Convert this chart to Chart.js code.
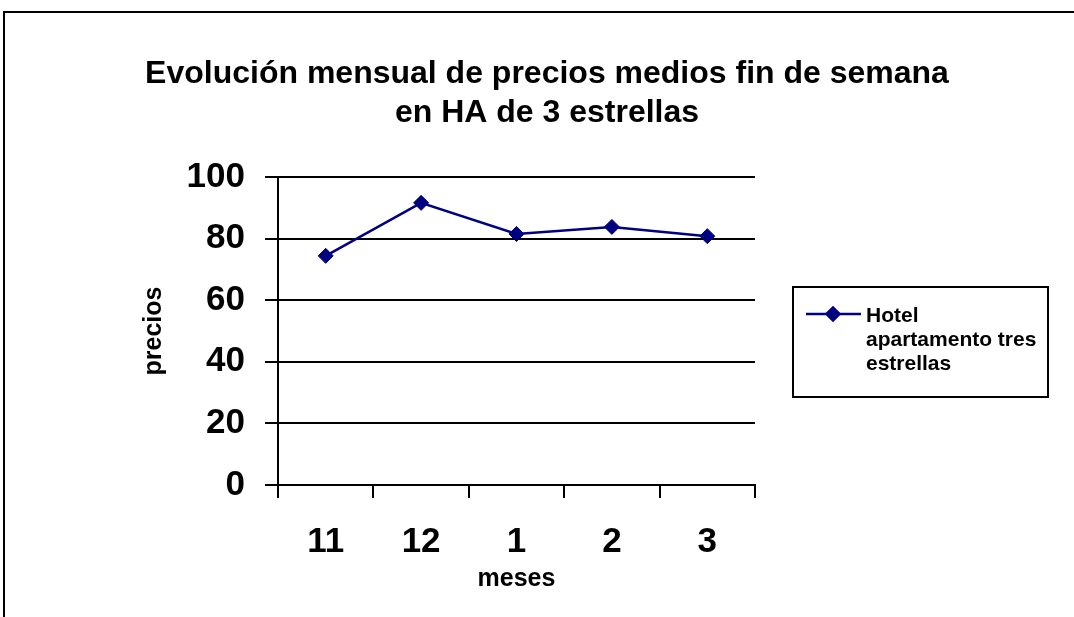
<!DOCTYPE html>
<html>
<head>
<meta charset="utf-8">
<script src="https://cdn.jsdelivr.net/npm/chart.js@4/dist/chart.umd.min.js"></script>
<style>
  html, body { margin: 0; padding: 0; background: #ffffff; }
  #wrap { width: 1074px; height: 617px; position: relative; }
  canvas { display: block; }
</style>
</head>
<body>
<div id="wrap"><canvas id="grafico" width="1074" height="617"></canvas></div>
<script>
// Meses (noviembre a marzo) y precio medio de fin de semana
const meses = ['11', '12', '1', '2', '3'];
const precios = [74.4, 91.6, 81.5, 83.8, 80.8];
const nombreSerie = 'Hotel apartamento tres estrellas';
const titulo = ['Evolución mensual de precios medios fin de semana', 'en HA de 3 estrellas'];
const tituloX = 'meses';
const tituloY = 'precios';
const yMin = 0, yMax = 100, yPaso = 20;

const FAMILIA = '"Liberation Sans", Arial, Helvetica, sans-serif';
const AZUL = '#000080';

// Reparte las palabras en líneas que no superen el ancho dado
function repartir(ctx, palabras, ancho) {
  const out = [];
  let actual = '';
  palabras.forEach(p => {
    const prueba = actual ? actual + ' ' + p : p;
    if (ctx.measureText(prueba).width > ancho && actual) { out.push(actual); actual = p; }
    else actual = prueba;
  });
  if (actual) out.push(actual);
  return out;
}

// Marco exterior, título y leyenda
const decoracion = {
  id: 'decoracion',
  beforeDraw(chart) {
    const ctx = chart.ctx;
    ctx.save();
    ctx.fillStyle = '#ffffff';
    ctx.fillRect(0, 0, chart.width, chart.height);
    ctx.strokeStyle = '#000000';
    ctx.lineWidth = 2;
    ctx.strokeRect(4, 12, chart.width + 20, chart.height + 20);
    ctx.restore();
  },
  afterDraw(chart) {
    const ctx = chart.ctx;
    ctx.save();
    // título
    ctx.fillStyle = '#000000';
    ctx.font = 'bold 32px ' + FAMILIA;
    ctx.textAlign = 'center';
    ctx.textBaseline = 'alphabetic';
    ctx.fillText(titulo[0], 547, 83);
    ctx.fillText(titulo[1], 547, 122);

    // leyenda
    const ds = chart.data.datasets[0];
    ctx.strokeStyle = '#000000';
    ctx.lineWidth = 2;
    ctx.strokeRect(793, 287, 255, 110);
    ctx.strokeStyle = ds.borderColor;
    ctx.lineWidth = ds.borderWidth;
    ctx.beginPath();
    ctx.moveTo(806, 314);
    ctx.lineTo(861, 314);
    ctx.stroke();
    ctx.fillStyle = ds.pointBackgroundColor;
    Chart.helpers.drawPoint(ctx, { pointStyle: ds.pointStyle, radius: 6.5, borderWidth: 1, rotation: 0 }, 833, 314);
    ctx.fill();

    ctx.fillStyle = '#000000';
    ctx.font = 'bold 21px ' + FAMILIA;
    ctx.textAlign = 'left';
    const palabras = ds.label.split(' ');
    // "Hotel" queda solo en la primera línea
    const texto = [palabras[0]].concat(repartir(ctx, palabras.slice(1), 176));
    texto.forEach((l, i) => ctx.fillText(l, 866, 322 + i * 24));
    ctx.restore();
  }
};

new Chart(document.getElementById('grafico'), {
  type: 'line',
  data: {
    labels: meses,
    datasets: [{
      label: nombreSerie,
      data: precios,
      borderColor: AZUL,
      backgroundColor: AZUL,
      pointBackgroundColor: AZUL,
      pointBorderColor: AZUL,
      borderWidth: 2.5,
      pointStyle: 'rectRot',
      pointRadius: 7.5,
      pointBorderWidth: 1,
      tension: 0,
      fill: false
    }]
  },
  options: {
    responsive: false,
    animation: false,
    devicePixelRatio: 1,
    layout: { padding: { left: 130, top: 177, right: 319, bottom: 0 } },
    plugins: {
      legend: { display: false },
      title: { display: false },
      tooltip: { enabled: false }
    },
    scales: {
      x: {
        type: 'category',
        offset: true,
        afterFit: s => { s.height = 132; },
        grid: { offset: true, drawOnChartArea: false, drawTicks: true, tickLength: 13, color: '#000000', lineWidth: 2 },
        border: { display: true, color: '#000000', width: 2 },
        ticks: { color: '#000000', font: { family: FAMILIA, size: 35, weight: 'bold' }, padding: 23, maxRotation: 0 },
        title: { display: true, text: tituloX, color: '#000000', font: { family: FAMILIA, size: 25, weight: 'bold' }, padding: { top: 0, bottom: 23 } }
      },
      y: {
        min: yMin,
        max: yMax,
        afterFit: s => { s.width = 148; },
        grid: { color: '#000000', lineWidth: 2, drawTicks: true, tickLength: 13 },
        border: { display: true, color: '#000000', width: 2 },
        ticks: { stepSize: yPaso, color: '#000000', font: { family: FAMILIA, size: 35, weight: 'bold' }, padding: 20 },
        title: { display: true, text: tituloY, color: '#000000', font: { family: FAMILIA, size: 25, weight: 'bold' }, padding: { top: 9, bottom: 0 } }
      }
    }
  },
  plugins: [decoracion]
});
</script>
</body>
</html>
